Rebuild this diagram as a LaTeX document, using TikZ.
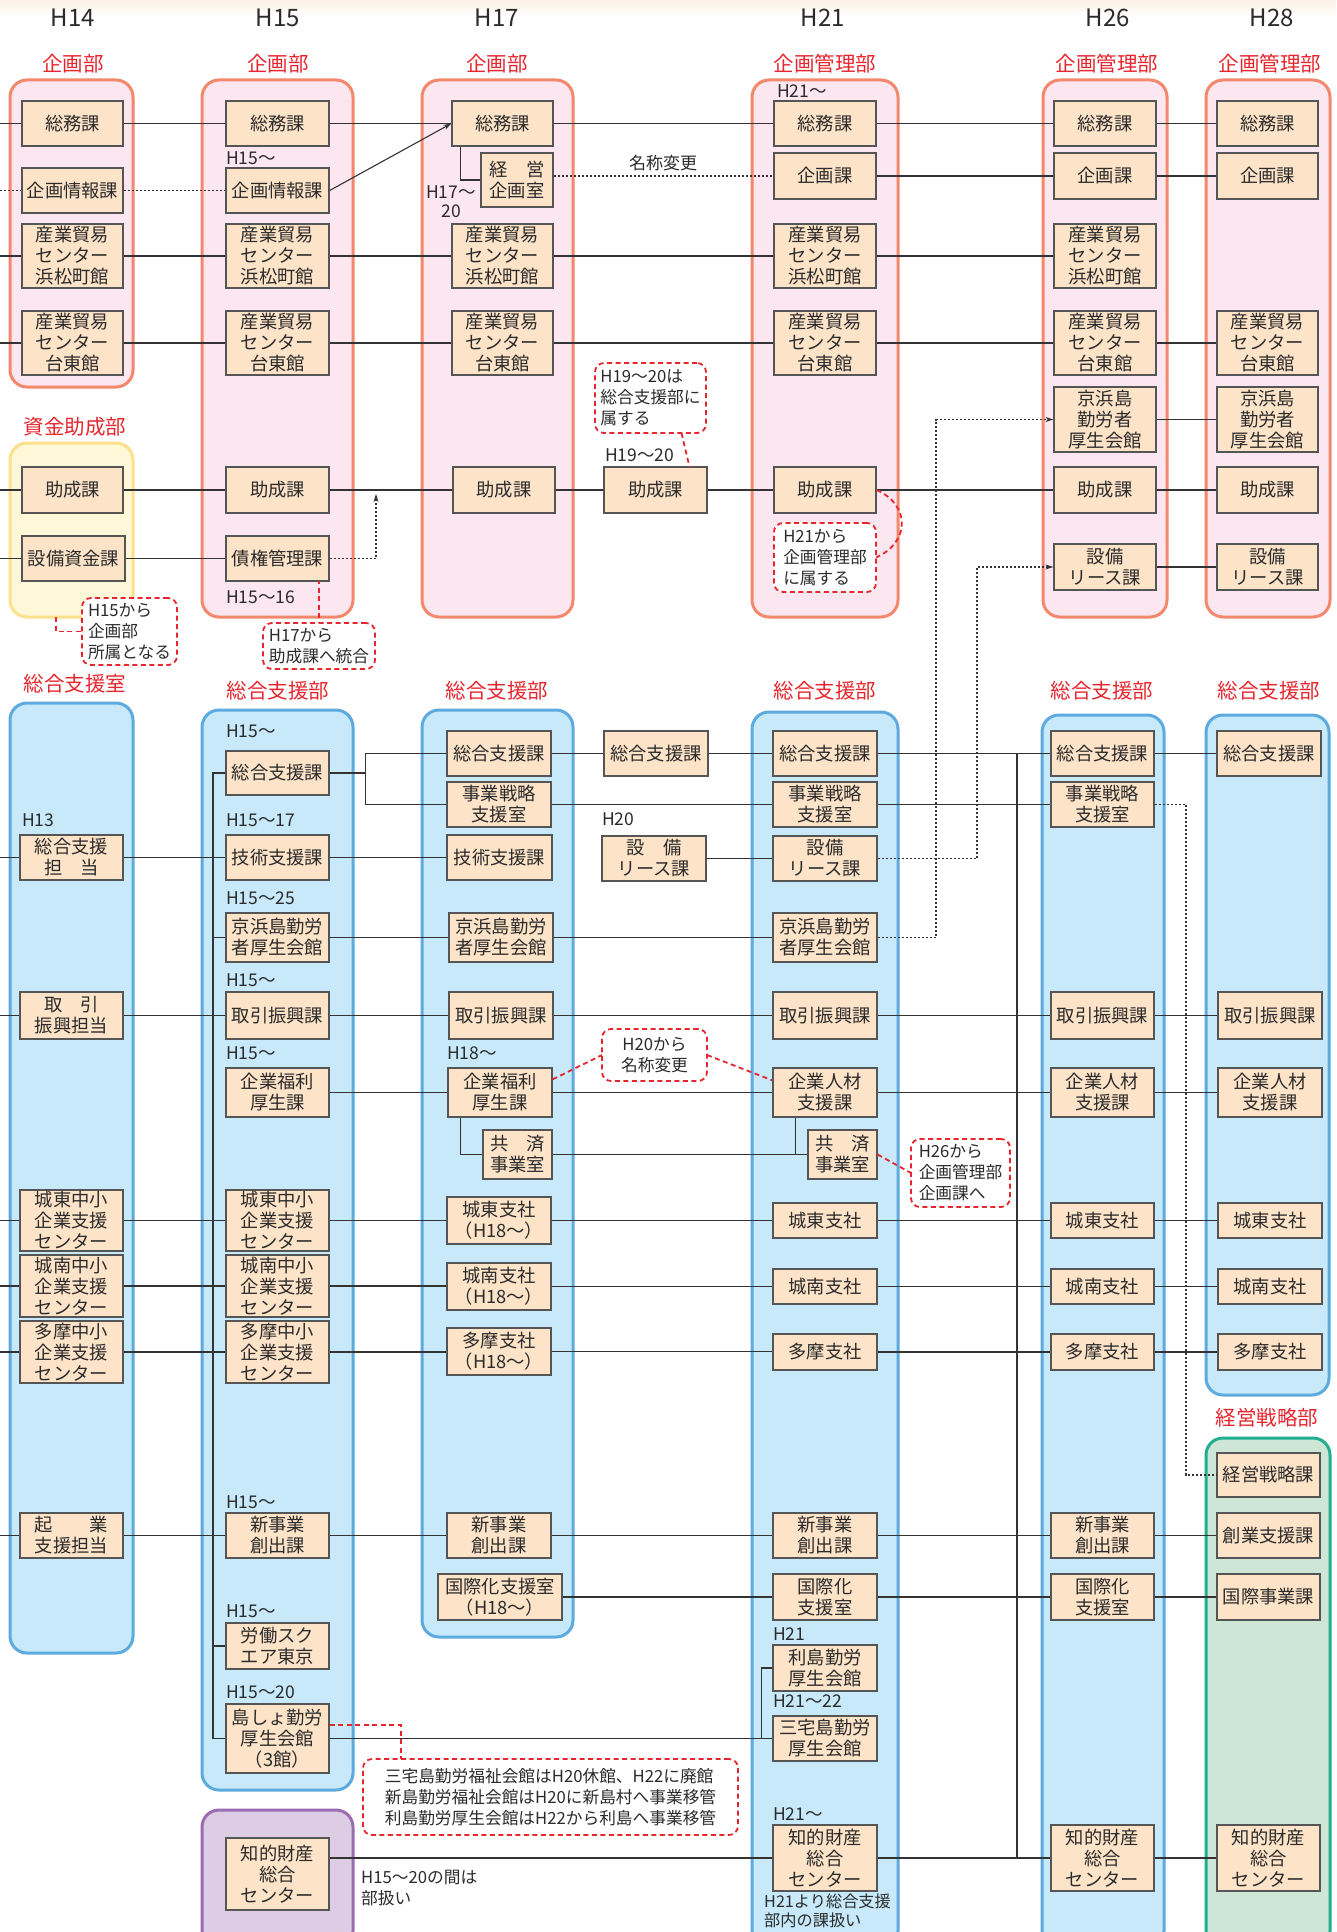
\documentclass[tikz,border=0pt]{standalone}
\usepackage{fontspec}
\setmainfont{Noto Sans CJK JP}
\usetikzlibrary{arrows.meta,calc}
\definecolor{pinkf}{HTML}{FCE6EF}
\definecolor{pinkb}{HTML}{F4886C}
\definecolor{yelf}{HTML}{FFF8D8}
\definecolor{yelb}{HTML}{FCE08C}
\definecolor{bluef}{HTML}{C7E9F9}
\definecolor{blueb}{HTML}{5DAADF}
\definecolor{grnf}{HTML}{CDE6D6}
\definecolor{grnb}{HTML}{22AF8E}
\definecolor{purf}{HTML}{DDCDE4}
\definecolor{purb}{HTML}{9B6BB4}
\definecolor{boxf}{HTML}{FDE3C8}
\definecolor{boxb}{HTML}{555555}
\definecolor{lnc}{HTML}{333333}
\definecolor{redc}{HTML}{E6262E}
\definecolor{txt}{HTML}{2B2B2B}
\definecolor{topc}{HTML}{FBF1E6}
\newcommand\mybox[6]{\node[bx,minimum width={#4-#2},minimum height={#5-#3}] (#1) at ({(#2+#4)/2},{(#3+#5)/2}) {#6};}
\newcommand\mydept[6]{\node[#6,minimum width={#4-#2},minimum height={#5-#3}] (#1) at ({(#2+#4)/2},{(#3+#5)/2}) {};}
\newcommand\mycall[6]{\node[callbox,minimum width={#4-#2},minimum height={#5-#3}] (#1) at ({(#2+#4)/2},{(#3+#5)/2}) {#6};}
\newcommand\hln[2]{\draw[ln] (#1.east) -- (#1.east -| #2.west);}
\newcommand\lft[1]{\draw[ln] (#1.west -| O) -- (#1.west);}
\begin{document}
\begin{tikzpicture}[x=1pt,y=-1pt,
  bx/.style={draw=boxb,fill=boxf,line width=1.3pt,inner sep=0pt,align=center,text=txt,font=\fontsize{18.3}{21}\selectfont},
  deptbase/.style={rounded corners=17pt,line width=3pt,inner sep=0pt},
  pinkd/.style={deptbase,draw=pinkb,fill=pinkf},
  yeld/.style={deptbase,draw=yelb,fill=yelf},
  blued/.style={deptbase,draw=blueb,fill=bluef},
  grnd/.style={deptbase,draw=grnb,fill=grnf},
  purd/.style={deptbase,draw=purb,fill=purf},
  callbox/.style={draw=redc,fill=white,line width=1.8pt,dash pattern=on 5pt off 3.5pt,rounded corners=9pt,inner sep=0pt,align=left,text=txt,font=\fontsize{16.7}{21}\selectfont},
  lbl/.style={anchor=west,inner sep=0pt,text=txt,font=\fontsize{17.5}{21}\selectfont},
  rlbl/.style={inner sep=0pt,text=redc,font=\fontsize{20.5}{24}\selectfont},
  hdr/.style={inner sep=0pt,text=txt,font=\fontsize{24}{28}\selectfont},
  ln/.style={draw=lnc,line width=1.1pt},
  dt/.style={draw=lnc,line width=1.1pt,dash pattern=on 2pt off 2pt},
  rd/.style={draw=redc,line width=1.8pt,dash pattern=on 5pt off 3.5pt},
  tip/.style={-{Stealth[length=8pt,width=5pt]}}]
\useasboundingbox (0,0) rectangle (1336,1932);
\clip (0,0) rectangle (1336,1932);
\fill[white] (0,0) rectangle (1336,1932);
\shade[top color=topc,bottom color=white] (0,0) rectangle (1336,16);
\coordinate (O) at (0,0);

% headers
\node[hdr] (h1) at (73,18) {H14};
\node[hdr] (h2) at (278,18) {H15};
\node[hdr] (h3) at (497,18) {H17};
\node[hdr] (h4) at (823,18) {H21};
\node[hdr] (h5) at (1108,18) {H26};
\node[hdr] (h6) at (1272,18) {H28};

% department labels
\node[rlbl] (r1) at (73,64) {企画部};
\node[rlbl] (r2) at (278,64) {企画部};
\node[rlbl] (r3) at (497,64) {企画部};
\node[rlbl] (r4) at (825,64) {企画管理部};
\node[rlbl] (r5) at (1107,64) {企画管理部};
\node[rlbl] (r6) at (1270,64) {企画管理部};
\node[rlbl] (r7) at (75,427) {資金助成部};
\node[rlbl] (r8) at (75,684) {総合支援室};
\node[rlbl] (r9) at (278,691) {総合支援部};
\node[rlbl] (r10) at (497,691) {総合支援部};
\node[rlbl] (r11) at (825,691) {総合支援部};
\node[rlbl] (r12) at (1102,691) {総合支援部};
\node[rlbl] (r13) at (1269,691) {総合支援部};
\node[rlbl] (r14) at (1267,1418) {経営戦略部};

% department boxes
\mydept{dA1}{10}{80}{133}{387}{pinkd}
\mydept{dA2}{10}{443}{133}{617}{yeld}
\mydept{dB1}{202}{80}{353}{617}{pinkd}
\mydept{dC1}{422}{80}{573}{617}{pinkd}
\mydept{dE1}{752}{80}{898}{617}{pinkd}
\mydept{dF1}{1043}{80}{1167}{617}{pinkd}
\mydept{dG1}{1206}{80}{1330}{617}{pinkd}
\mydept{dA3}{10}{703}{133}{1653}{blued}
\mydept{dB3}{202}{710}{353}{1790}{blued}
\mydept{dC3}{422}{710}{573}{1637}{blued}
\mydept{dE3}{752}{712}{898}{1948}{blued}
\mydept{dF3}{1042}{715}{1164}{1948}{blued}
\mydept{dG3}{1206}{715}{1329}{1395}{blued}
\mydept{dG4}{1206}{1438}{1330}{1948}{grnd}
\mydept{dP}{202}{1810}{353}{1948}{purd}

% small labels
\node[lbl] (l1) at (226,158) {H15～};
\node[inner sep=0pt,align=center,text=txt,font=\fontsize{17.5}{19}\selectfont] (l2) at (451,202) {H17～\\20};
\node[lbl] (l3) at (777,91) {H21～};
\node[lbl] (l4) at (605,455) {H19～20};
\node[lbl] (l5) at (226,597) {H15～16};
\node[lbl] (l6) at (226,731) {H15～};
\node[lbl] (l7) at (226,820) {H15～17};
\node[lbl] (l8) at (226,898) {H15～25};
\node[lbl] (l9) at (226,980) {H15～};
\node[lbl] (l10) at (226,1053) {H15～};
\node[lbl] (l11) at (226,1502) {H15～};
\node[lbl] (l12) at (226,1611) {H15～};
\node[lbl] (l13) at (226,1692) {H15～20};
\node[lbl] (l14) at (22,820) {H13};
\node[lbl] (l15) at (447,1053) {H18～};
\node[lbl] (l16) at (602,819) {H20};
\node[lbl] (l17) at (773,1634) {H21};
\node[lbl] (l18) at (773,1701) {H21～22};
\node[lbl] (l19) at (773,1814) {H21～};
\node[inner sep=0pt,text=txt,font=\fontsize{17}{21}\selectfont] (l20) at (663,163) {名称変更};
\node[lbl,align=left,font=\fontsize{16.7}{21}\selectfont] (l21) at (361,1888) {H15～20の間は\\部扱い};
\node[lbl,align=left,font=\fontsize{16.2}{19}\selectfont] (l22) at (764,1911) {H21より総合支援\\部内の課扱い};

% ---------- top boxes ----------
\mybox{aSo}{22}{101}{123}{146}{総務課}
\mybox{aKj}{22}{168}{123}{213}{企画情報課}
\mybox{aHm}{22}{224}{123}{288}{産業貿易\\センター\\浜松町館}
\mybox{aTt}{22}{311}{123}{375}{産業貿易\\センター\\台東館}
\mybox{aJo}{22}{467}{123}{513}{助成課}
\mybox{aSt}{22}{536}{125}{581}{設備資金課}

\mybox{bSo}{226}{101}{329}{146}{総務課}
\mybox{bKj}{226}{168}{329}{213}{企画情報課}
\mybox{bHm}{226}{224}{329}{288}{産業貿易\\センター\\浜松町館}
\mybox{bTt}{226}{311}{329}{375}{産業貿易\\センター\\台東館}
\mybox{bJo}{226}{467}{329}{513}{助成課}
\mybox{bSk}{226}{536}{329}{581}{債権管理課}

\mybox{cSo}{452}{101}{553}{146}{総務課}
\mybox{cKe}{481}{153}{553}{207}{経　営\\企画室}
\mybox{cHm}{452}{224}{553}{288}{産業貿易\\センター\\浜松町館}
\mybox{cTt}{452}{311}{553}{375}{産業貿易\\センター\\台東館}
\mybox{cJo}{453}{467}{555}{513}{助成課}

\mybox{dJo}{604}{467}{707}{513}{助成課}

\mybox{eSo}{774}{101}{876}{146}{総務課}
\mybox{eKk}{774}{153}{876}{199}{企画課}
\mybox{eHm}{774}{224}{876}{288}{産業貿易\\センター\\浜松町館}
\mybox{eTt}{774}{311}{876}{375}{産業貿易\\センター\\台東館}
\mybox{eJo}{774}{467}{876}{513}{助成課}

\mybox{fSo}{1054}{101}{1156}{146}{総務課}
\mybox{fKk}{1054}{153}{1156}{199}{企画課}
\mybox{fHm}{1054}{224}{1156}{288}{産業貿易\\センター\\浜松町館}
\mybox{fTt}{1054}{311}{1156}{375}{産業貿易\\センター\\台東館}
\mybox{fKh}{1054}{387}{1156}{452}{京浜島\\勤労者\\厚生会館}
\mybox{fJo}{1054}{467}{1156}{513}{助成課}
\mybox{fSr}{1054}{544}{1156}{590}{設備\\リース課}

\mybox{gSo}{1217}{101}{1318}{146}{総務課}
\mybox{gKk}{1217}{153}{1318}{199}{企画課}
\mybox{gTt}{1217}{311}{1318}{375}{産業貿易\\センター\\台東館}
\mybox{gKh}{1217}{387}{1318}{452}{京浜島\\勤労者\\厚生会館}
\mybox{gJo}{1217}{467}{1318}{513}{助成課}
\mybox{gSr}{1217}{544}{1318}{590}{設備\\リース課}

% ---------- lower boxes ----------
\mybox{aGs}{20}{835}{123}{880}{総合支援\\担　当}
\mybox{aTr}{20}{992}{123}{1039}{取　引\\振興担当}
\mybox{aJt}{20}{1190}{123}{1251}{城東中小\\企業支援\\センター}
\mybox{aJn}{20}{1255}{123}{1317}{城南中小\\企業支援\\センター}
\mybox{aTm}{20}{1321}{123}{1383}{多摩中小\\企業支援\\センター}
\mybox{aKg}{20}{1513}{123}{1558}{起　　業\\支援担当}

\mybox{bGs}{226}{751}{329}{795}{総合支援課}
\mybox{bGj}{226}{835}{329}{880}{技術支援課}
\mybox{bKh}{226}{913}{329}{962}{京浜島勤労\\者厚生会館}
\mybox{bTr}{226}{992}{329}{1039}{取引振興課}
\mybox{bKf}{226}{1068}{329}{1117}{企業福利\\厚生課}
\mybox{bJt}{226}{1190}{329}{1251}{城東中小\\企業支援\\センター}
\mybox{bJn}{226}{1255}{329}{1317}{城南中小\\企業支援\\センター}
\mybox{bTm}{226}{1321}{329}{1383}{多摩中小\\企業支援\\センター}
\mybox{bSj}{226}{1513}{329}{1558}{新事業\\創出課}
\mybox{bRd}{226}{1623}{329}{1669}{労働スク\\エア東京}
\mybox{bSh}{226}{1704}{329}{1773}{島しょ勤労\\厚生会館\\（3館）}
\mybox{pCh}{226}{1838}{329}{1910}{知的財産\\総合\\センター}

\mybox{cGs}{447}{731}{551}{776}{総合支援課}
\mybox{cJs}{447}{782}{551}{827}{事業戦略\\支援室}
\mybox{cGj}{447}{835}{552}{880}{技術支援課}
\mybox{cKh}{449}{913}{553}{962}{京浜島勤労\\者厚生会館}
\mybox{cTr}{449}{992}{553}{1039}{取引振興課}
\mybox{cKf}{448}{1068}{552}{1117}{企業福利\\厚生課}
\mybox{cKy}{483}{1130}{552}{1179}{共　済\\事業室}
\mybox{cJt}{447}{1197}{551}{1244}{城東支社\\（H18～）}
\mybox{cJn}{447}{1263}{551}{1310}{城南支社\\（H18～）}
\mybox{cTm}{447}{1328}{551}{1375}{多摩支社\\（H18～）}
\mybox{cSj}{447}{1513}{551}{1558}{新事業\\創出課}
\mybox{cKi}{438}{1574}{562}{1620}{国際化支援室\\（H18～）}

\mybox{dGs}{604}{731}{708}{776}{総合支援課}
\mybox{dSr}{602}{836}{706}{881}{設　備\\リース課}

\mybox{eGs}{773}{731}{877}{776}{総合支援課}
\mybox{eJs}{773}{782}{877}{827}{事業戦略\\支援室}
\mybox{eSr}{773}{836}{877}{881}{設備\\リース課}
\mybox{eKh}{773}{913}{877}{962}{京浜島勤労\\者厚生会館}
\mybox{eTr}{773}{992}{877}{1039}{取引振興課}
\mybox{eKz}{773}{1068}{877}{1117}{企業人材\\支援課}
\mybox{eKy}{808}{1130}{877}{1179}{共　済\\事業室}
\mybox{eJt}{773}{1203}{877}{1238}{城東支社}
\mybox{eJn}{773}{1269}{877}{1304}{城南支社}
\mybox{eTm}{773}{1334}{877}{1370}{多摩支社}
\mybox{eSj}{773}{1513}{877}{1558}{新事業\\創出課}
\mybox{eKi}{773}{1574}{877}{1620}{国際化\\支援室}
\mybox{eTs}{773}{1645}{877}{1691}{利島勤労\\厚生会館}
\mybox{eMs}{773}{1716}{877}{1761}{三宅島勤労\\厚生会館}
\mybox{eCh}{773}{1825}{877}{1891}{知的財産\\総合\\センター}

\mybox{fGs}{1051}{731}{1154}{776}{総合支援課}
\mybox{fJs}{1051}{782}{1154}{827}{事業戦略\\支援室}
\mybox{fTr}{1051}{992}{1154}{1039}{取引振興課}
\mybox{fKz}{1051}{1068}{1154}{1117}{企業人材\\支援課}
\mybox{fJt}{1051}{1203}{1154}{1238}{城東支社}
\mybox{fJn}{1051}{1269}{1154}{1304}{城南支社}
\mybox{fTm}{1051}{1334}{1154}{1370}{多摩支社}
\mybox{fSj}{1051}{1513}{1154}{1558}{新事業\\創出課}
\mybox{fKi}{1051}{1574}{1154}{1620}{国際化\\支援室}
\mybox{fCh}{1051}{1825}{1154}{1891}{知的財産\\総合\\センター}

\mybox{gGs}{1217}{731}{1321}{776}{総合支援課}
\mybox{gTr}{1218}{992}{1322}{1039}{取引振興課}
\mybox{gKz}{1218}{1068}{1322}{1117}{企業人材\\支援課}
\mybox{gJt}{1218}{1203}{1322}{1238}{城東支社}
\mybox{gJn}{1218}{1269}{1322}{1304}{城南支社}
\mybox{gTm}{1218}{1334}{1322}{1370}{多摩支社}
\mybox{gKs}{1217}{1453}{1320}{1497}{経営戦略課}
\mybox{gSg}{1217}{1513}{1320}{1558}{創業支援課}
\mybox{gKi}{1217}{1574}{1320}{1620}{国際事業課}
\mybox{gCh}{1217}{1825}{1320}{1891}{知的財産\\総合\\センター}

% ---------- top connectors ----------
\lft{aSo} \hln{aSo}{bSo} \hln{bSo}{cSo} \hln{cSo}{eSo} \hln{eSo}{fSo} \hln{fSo}{gSo}
\draw[dt] (aKj.west -| O) -- (aKj.west);
\draw[dt] (aKj.east) -- (bKj.west);
\draw[ln,tip] (bKj.east) -- (cSo.west);
\draw[ln] ([xshift=9pt]cSo.south west) |- (cKe.west);
\draw[dt] (cKe.east |- eKk.west) -- (eKk.west);
\hln{eKk}{fKk} \hln{fKk}{gKk}
\lft{aHm} \hln{aHm}{bHm} \hln{bHm}{cHm} \hln{cHm}{eHm} \hln{eHm}{fHm}
\lft{aTt} \hln{aTt}{bTt} \hln{bTt}{cTt} \hln{cTt}{eTt} \hln{eTt}{fTt} \hln{fTt}{gTt}
\hln{fKh}{gKh}
\lft{aJo} \hln{aJo}{bJo} \hln{bJo}{cJo} \hln{cJo}{dJo} \hln{dJo}{eJo} \hln{eJo}{fJo} \hln{fJo}{gJo}
\lft{aSt} \hln{aSt}{bSk}
\hln{fSr}{gSr}
\coordinate (sk) at (376,494);
\draw[dt,tip] (bSk.east) -| (sk);

% ---------- lower connectors ----------
\lft{aGs} \hln{aGs}{bGj} \hln{bGj}{cGj}
\hln{dSr}{eSr}
\coordinate (br) at ([xshift=36pt]bGs.east);
\draw[ln] (bGs.east) -- (br);
\draw[ln] (cGs.west) -| (br) |- (cJs.west);
\hln{cGs}{dGs} \hln{dGs}{eGs} \hln{eGs}{fGs} \hln{fGs}{gGs}
\hln{cJs}{eJs} \hln{eJs}{fJs}
\hln{bKh}{cKh} \hln{cKh}{eKh}
\lft{aTr} \hln{aTr}{bTr} \hln{bTr}{cTr} \hln{cTr}{eTr} \hln{eTr}{fTr} \hln{fTr}{gTr}
\hln{bKf}{cKf} \hln{cKf}{eKz} \hln{eKz}{fKz} \hln{fKz}{gKz}
\draw[ln] ([xshift=13pt]cKf.south west) |- (cKy.west);
\hln{cKy}{eKy}
\draw[ln] ([xshift=23pt]eKz.south west) -- ([xshift=23pt]eKz.south west |- eKy.west);
\lft{aJt} \hln{aJt}{bJt} \hln{bJt}{cJt} \hln{cJt}{eJt} \hln{eJt}{fJt} \hln{fJt}{gJt}
\lft{aJn} \hln{aJn}{bJn} \hln{bJn}{cJn} \hln{cJn}{eJn} \hln{eJn}{fJn} \hln{fJn}{gJn}
\lft{aTm} \hln{aTm}{bTm} \hln{bTm}{cTm} \hln{cTm}{eTm} \hln{eTm}{fTm} \hln{fTm}{gTm}
\lft{aKg} \hln{aKg}{bSj} \hln{bSj}{cSj} \hln{cSj}{eSj} \hln{eSj}{fSj} \hln{fSj}{gSg}
\hln{cKi}{eKi} \hln{eKi}{fKi} \hln{fKi}{gKi}
\hln{bSh}{eMs}
\draw[ln] (eTs.west) -| ([xshift=-11pt]eMs.west);
\draw[ln] (pCh.east |- eCh.west) -- (eCh.west);
\hln{eCh}{fCh} \hln{fCh}{gCh}
% trunks
\coordinate (tB) at (213,0);
\draw[ln] (bGs.west) -- (bGs.west -| tB) -- (bSh.west -| tB) -- (bSh.west);
\draw[ln] (bKh.west -| tB) -- (bKh.west);
\draw[ln] (bRd.west -| tB) -- (bRd.west);
\coordinate (tF) at (1017,0);
\draw[ln] (fGs.west -| tF) -- (fCh.west -| tF);
% dotted transfers
\coordinate (k1) at (936,419.5);
\draw[dt,tip] (eKh.east) -| (k1) -- (fKh.west);
\coordinate (k2) at (977,567);
\draw[dt,tip] (eSr.east) -| (k2) -- (fSr.west);
\coordinate (k3) at (1186,804.5);
\draw[dt] (fJs.east) -- (k3) |- (gKs.west);

% ---------- callouts ----------
\coordinate (y1) at (56,617);
\draw[rd] (y1) |- (82,631.5);
\draw[rd] (319,669) -- (319,581);
\draw[rd] (681.5,433) -- (689.5,467);
\draw[rd] (eJo.east) .. controls +(34,15) and +(34,-15) .. (876,557.5);
\draw[rd] ([yshift=-12pt]cKf.north east) -- (602,1055);
\draw[rd] (707,1055) -- ([yshift=-13pt]eKz.north west);
\draw[rd] (eKy.east) -- (911,1173);
\draw[rd] ([yshift=-22pt]bSh.north east) -| (401,1759);

\mycall{c1}{82}{598}{177}{665}{H15から\\企画部\\所属となる}
\mycall{c2}{263}{623}{375}{669}{H17から\\助成課へ統合}
\mycall{c3}{595}{363}{706}{433}{H19～20は\\総合支援部に\\属する}
\mycall{c4}{774}{523}{876}{592}{H21から\\企画管理部\\に属する}
\node[callbox,align=center,minimum width=105,minimum height=52] (c5) at (654.5,1055) {H20から\\名称変更};
\mycall{c6}{911}{1139}{1010}{1207}{H26から\\企画管理部\\企画課へ}
\mycall{c7}{363}{1759}{738}{1835}{三宅島勤労福祉会館はH20休館、H22に廃館\\新島勤労福祉会館はH20に新島村へ事業移管\\利島勤労厚生会館はH22から利島へ事業移管}
\end{tikzpicture}
\end{document}
